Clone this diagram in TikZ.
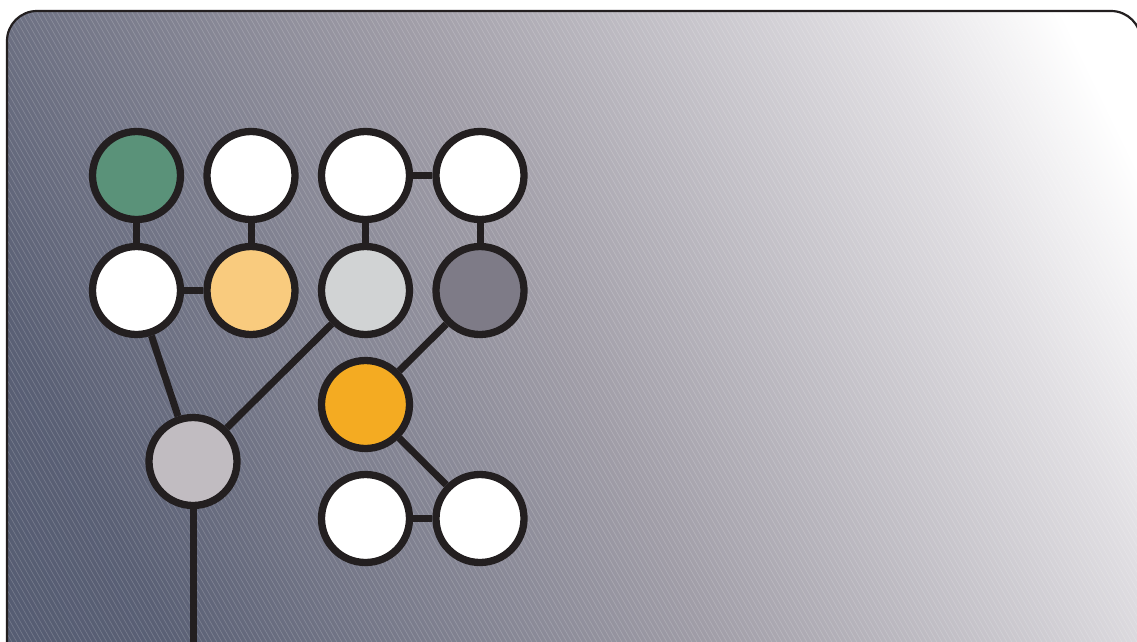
\documentclass[tikz,border=0pt]{standalone}
\definecolor{ink}{HTML}{231F20}
\definecolor{cgreen}{HTML}{5A9279}
\definecolor{cpeach}{HTML}{F9CB7E}
\definecolor{clight}{HTML}{D1D3D4}
\definecolor{cgray}{HTML}{7E7B87}
\definecolor{corange}{HTML}{F4AB22}
\definecolor{clav}{HTML}{C1BCC1}
\definecolor{bgA}{HTML}{4A546C}
\definecolor{bgB}{HTML}{5A6075}
\definecolor{bgC}{HTML}{A19EA8}
\definecolor{bgD}{HTML}{E0DEE2}
\pgfdeclarehorizontalshading{bgshade}{100bp}{color(0bp)=(bgA); color(25bp)=(bgB); color(50bp)=(bgC); color(71bp)=(bgD); color(80bp)=(white); color(100bp)=(white)}
\begin{document}
\begin{tikzpicture}[x=1pt,y=-1pt,
  nd/.style={circle, draw=ink, line width=7.3pt, inner sep=0pt, minimum size=88pt},
  edge/.style={draw=ink, line width=7pt},
  hatch/.style={white, opacity=0.22, line width=0.5pt},
  frame/.style={draw=ink, line width=2.2pt}]
\useasboundingbox (0,0) rectangle (1137,641);
\clip (0,0) rectangle (1137,641);
\fill[white] (0,0) rectangle (1137,641);
\path[shading=bgshade, shading angle=26, rounded corners=30pt] (7,11) rectangle (1141,700);
\begin{scope}
  \clip[rounded corners=30pt] (7,11) rectangle (1141,700);
  \foreach \i in {-420,-415,...,1140} \draw[hatch] (\i,0) -- ++(420,735);
\end{scope}
\draw[frame, rounded corners=30pt] (7,11) rectangle (1141,700);

\node[nd, fill=cgreen] (a1) at (136.5,175.5) {};
\node[nd, fill=white]  (a2) at (251,175.5) {};
\node[nd, fill=white]  (a3) at (365.5,175.5) {};
\node[nd, fill=white]  (a4) at (480,175.5) {};
\node[nd, fill=white]  (b1) at (136.5,290.5) {};
\node[nd, fill=cpeach] (b2) at (251,290.5) {};
\node[nd, fill=clight] (b3) at (365.5,290.5) {};
\node[nd, fill=cgray]  (b4) at (480,290.5) {};
\node[nd, fill=corange] (o) at (365.5,404.5) {};
\node[nd, fill=clav]   (m) at (193,461.5) {};
\node[nd, fill=white]  (d3) at (365.5,518.5) {};
\node[nd, fill=white]  (d4) at (480,518.5) {};
\coordinate (bot) at (193,680);

\draw[edge] (a1) -- (b1);
\draw[edge] (a2) -- (b2);
\draw[edge] (a3) -- (a4);
\draw[edge] (a3) -- (b3);
\draw[edge] (a4) -- (b4);
\draw[edge] (b1) -- (b2);
\draw[edge] (b1) -- (m);
\draw[edge] (b3) -- (m);
\draw[edge] (b4) -- (o);
\draw[edge] (o) -- (d4);
\draw[edge] (d3) -- (d4);
\draw[edge] (m) -- (bot);
\end{tikzpicture}
\end{document}
